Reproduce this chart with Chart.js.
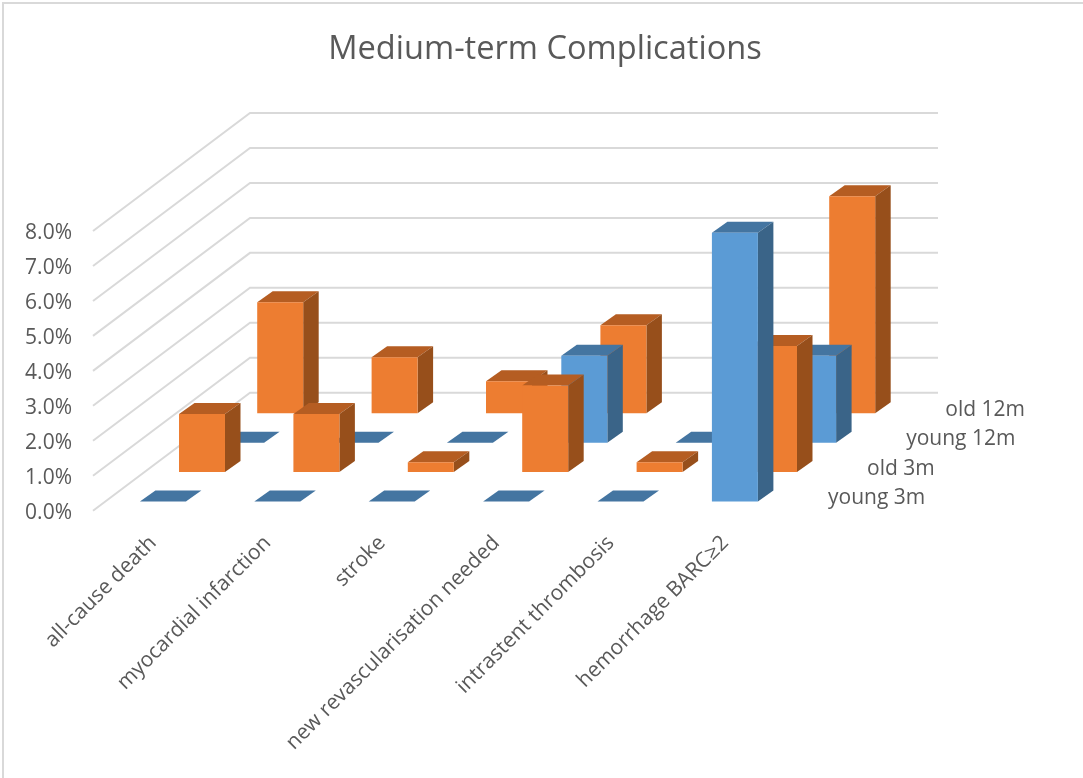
<!DOCTYPE html>
<html>
<head>
<meta charset="utf-8">
<title>Medium-term Complications</title>
<script src="https://cdn.jsdelivr.net/npm/chart.js@4"></script>
<style>
    html, body { margin: 0; padding: 0; background: #fff; overflow: hidden; }
    #wrap { width: 1083px; height: 778px; position: relative; }
</style>
</head>
<body>
<div id="wrap"><canvas id="complicationsChart"></canvas></div>
<script>
// Wartosci w procentach
const categories = ['all-cause death', 'myocardial infarction', 'stroke',
    'new revascularisation needed', 'intrastent thrombosis', 'hemorrhage BARC\u22652'];
const seriesNames = ['young 3m', 'old 3m', 'young 12m', 'old 12m'];
const young3m = [0, 0, 0, 0, 0, 7.69];
const old3m = [1.66, 1.66, 0.28, 2.48, 0.28, 3.61];
const young12m = [0, 0, 0, 2.49, 0, 2.49];
const old12m = [3.18, 1.6, 0.92, 2.52, 0, 6.21];

const BLUE = { front: '#5b9bd5', top: '#4475a1', side: '#3a6488' };
const ORANGE = { front: '#ed7d31', top: '#b55d22', side: '#974f1b' };
const TEXT_COLOR = '#595959';
const LINE_COLOR = '#d9d9d9';
const FONT = '"Open Sans", sans-serif';

// Rzut glebokosci: podloga od osi do tylnej sciany
const WALL_DX = 157, WALL_DY = -118, WALL_END_DX = 158.6;
const SERIES_DX = 39.1, SERIES_DY = -29.4;
const FIRST_DX = 12.7, FIRST_DY = -9.2;
const BAR_DX = 15.5, BAR_DY = -11;

function depthOffset(index) {
    return {
        dx: FIRST_DX + index * SERIES_DX,
        dy: FIRST_DY + index * SERIES_DY
    };
}

function poly(ctx, color, points) {
    ctx.fillStyle = color;
    ctx.beginPath();
    points.forEach((p, i) => i ? ctx.lineTo(p[0], p[1]) : ctx.moveTo(p[0], p[1]));
    ctx.closePath();
    ctx.fill();
}

const depthPlugin = {
    id: 'depthPlugin',
    beforeDraw(chart) {
        // ramka widoczna tylko z lewej i u gory
        const ctx = chart.ctx;
        ctx.save();
        ctx.strokeStyle = LINE_COLOR;
        ctx.lineWidth = 2;
        ctx.beginPath();
        ctx.moveTo(3, chart.height);
        ctx.lineTo(3, 3);
        ctx.lineTo(chart.width, 3);
        ctx.stroke();
        ctx.restore();
    },
    beforeDatasetsDraw(chart) {
        const { ctx, scales: { x, y } } = chart;
        ctx.save();
        ctx.strokeStyle = LINE_COLOR;
        ctx.lineWidth = 2;
        y.ticks.forEach((tick) => {
            const py = y.getPixelForValue(tick.value);
            ctx.beginPath();
            ctx.moveTo(x.left, py);
            ctx.lineTo(x.left + WALL_DX, py + WALL_DY);
            ctx.lineTo(x.right + WALL_END_DX, py + WALL_DY);
            ctx.stroke();
        });

        // nazwy serii wzdluz osi glebokosci
        ctx.fillStyle = TEXT_COLOR;
        ctx.font = '21px ' + FONT;
        ctx.textAlign = 'left';
        ctx.textBaseline = 'middle';
        seriesNames.forEach((name, s) => {
            const { dx, dy } = depthOffset(s);
            ctx.fillText(name, x.right + 35.9 + dx, y.bottom + dy - 3.2);
        });
        ctx.restore();
    },
    beforeDatasetDraw(chart, args) {
        const ctx = chart.ctx;
        const ds = chart.data.datasets[args.index];
        const { dx, dy } = depthOffset(args.index);
        ctx.save();
        args.meta.data.forEach((bar) => {
            const left = bar.x - bar.width / 2 + dx;
            const right = left + bar.width;
            const top = bar.y + dy;
            const bottom = bar.base + dy;
            poly(ctx, ds.topColor, [[left, top], [right, top],
                [right + BAR_DX, top + BAR_DY], [left + BAR_DX, top + BAR_DY]]);
            if (bottom - top > 0.5) {
                poly(ctx, ds.sideColor, [[right, top], [right + BAR_DX, top + BAR_DY],
                    [right + BAR_DX, bottom + BAR_DY], [right, bottom]]);
                poly(ctx, ds.backgroundColor, [[left, top], [right, top], [right, bottom], [left, bottom]]);
            }
        });
        ctx.restore();
        return false;
    }
};

function makeSeries(index, data, palette) {
    return {
        label: seriesNames[index],
        data: data,
        backgroundColor: palette.front,
        topColor: palette.top,
        sideColor: palette.side,
        barPercentage: 0.402,
        categoryPercentage: 1,
        grouped: false
    };
}

new Chart(document.getElementById('complicationsChart').getContext('2d'), {
    type: 'bar',
    data: {
        labels: categories,
        datasets: [
            makeSeries(0, young3m, BLUE),
            makeSeries(1, old3m, ORANGE),
            makeSeries(2, young12m, BLUE),
            makeSeries(3, old12m, ORANGE)
        ]
    },
    plugins: [depthPlugin],
    options: {
        responsive: true,
        maintainAspectRatio: false,
        animation: false,
        events: [],
        layout: { padding: { left: 7 } },
        plugins: {
            legend: { display: false },
            tooltip: { enabled: false },
            title: {
                display: true,
                text: 'Medium-term Complications',
                color: TEXT_COLOR,
                font: { family: FONT, size: 32.6, weight: 'normal', lineHeight: 1.2 },
                padding: { top: 30, bottom: 161.9 }
            }
        },
        scales: {
            x: {
                grid: { display: false },
                border: { display: false },
                ticks: {
                    color: TEXT_COLOR,
                    font: { family: FONT, size: 21 },
                    minRotation: 45,
                    maxRotation: 45,
                    autoSkip: false,
                    padding: 12,
                    labelOffset: 3
                },
                afterFit(scale) { scale.height = 267.3; }
            },
            y: {
                min: 0,
                max: 8,
                grid: { display: false, drawTicks: false },
                border: { display: false },
                ticks: {
                    color: TEXT_COLOR,
                    font: { family: FONT, size: 21 },
                    stepSize: 1,
                    padding: 21,
                    labelOffset: 2,
                    callback: (value) => value.toFixed(1) + '%'
                },
                afterFit(scale) { scale.width = 86; }
            },
            // pusty pas po prawej, na nazwy serii i tylna sciane
            rightGutter: {
                position: 'right',
                display: true,
                grid: { display: false },
                border: { display: false },
                ticks: { display: false },
                afterFit(scale) { scale.width = 303.6; }
            }
        }
    }
});
</script>
</body>
</html>
